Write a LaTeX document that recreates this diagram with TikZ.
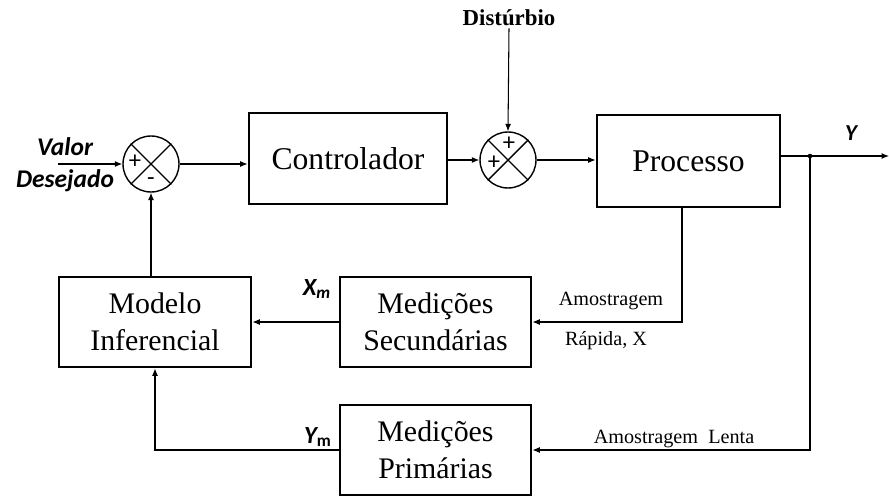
\documentclass[tikz,border=0pt]{standalone}
\usepackage{fontspec}
\setmainfont{Liberation Serif}
\newfontfamily\calibri{Carlito}
\usetikzlibrary{arrows.meta,positioning,calc}
\newcommand{\seta}[2]{\draw[->] (#1) -- (#2)}

\begin{document}
\begin{tikzpicture}[
      x=0.02cm,y=-0.02cm,
      >={Latex[length=1.5mm,width=1.2mm]},
      line width=0.6pt,
      bloco/.style={rectangle,draw,line width=1.6pt,minimum width=3.82cm,minimum height=1.8cm,align=center,inner sep=0pt,font=\fontsize{17}{21}\selectfont},
      somador/.style={circle,draw,line width=0.8pt,minimum size=1.12cm,inner sep=0pt},
      sinal/.style={inner sep=0pt,font=\calibri\fontsize{14}{14}\selectfont},
      rotulo/.style={inner sep=1pt,font=\calibri\bfseries\itshape\fontsize{14.5}{18}\selectfont,align=center},
      nota/.style={inner sep=1pt,font=\fontsize{11.5}{14}\selectfont}]

      \useasboundingbox (0,0) rectangle (889,497);

      % Define nodes
      \node [somador] (s1) at (151,164) {};
      \node [somador] (s2) at (508,160) {};
      \draw[line width=0.8pt] (s1.45) -- (s1.225) (s1.135) -- (s1.315);
      \draw[line width=0.8pt] (s2.45) -- (s2.225) (s2.135) -- (s2.315);
      \node [sinal] (s1a) at (135,162) {+};
      \node [sinal] (s1b) at (151,182) {-};
      \node [sinal] (s2a) at (509,144) {+};
      \node [sinal] (s2b) at (494,163) {+};

      \node [bloco,minimum width=3.96cm,minimum height=1.82cm,font=\fontsize{18}{22}\selectfont] (ctrl) at (348,158.5) {Controlador};
      \node [bloco,minimum width=3.66cm,minimum height=1.84cm,font=\fontsize{18}{22}\selectfont] (proc) at (688.5,161) {Processo};
      \node [bloco,minimum width=3.84cm] (modelo) at (155,322) {Modelo\\Inferencial};
      \node [bloco] (medsec) at (435.5,322) {Medições\\Secundárias};
      \node [bloco] (medpri) at (435.5,450) {Medições\\Primárias};

      \node [rotulo] (valor) at (65,165) {Valor\\Desejado};
      \node [inner sep=1pt,font=\bfseries\fontsize{13}{15}\selectfont] (dist) at (509,18) {Distúrbio};
      \node [rotulo,font=\calibri\bfseries\itshape\fontsize{13}{15}\selectfont] (ylab) at (851,133) {Y};
      \node [rotulo,font=\calibri\bfseries\itshape\fontsize{14}{16}\selectfont] (xm) at (317,289) {X\textsubscript{m}};
      \node [rotulo,font=\calibri\bfseries\itshape\fontsize{14}{16}\selectfont] (ym) at (318,437) {Y\textsubscript{\upshape m}};
      \node [nota] (amr) at (611,301) {Amostragem};
      \node [nota] (rap) at (606,341) {Rápida, X};
      \node [nota] (aml) at (674,439) {Amostragem\ \ Lenta};

      \coordinate (ent) at (58,164);
      \coordinate (juncao) at (810,156);
      \coordinate (saida) at (889,156);

      % Draw paths
      \seta{ent}{s1.west};
      \seta{s1.east}{s1.east -| ctrl.west};
      \seta{ctrl.east |- s2}{s2.west};
      \seta{dist.south}{s2.north};
      \seta{s2.east}{s2.east -| proc.west};
      \draw (proc.east |- juncao) -- (juncao);
      \seta{juncao}{saida};
      \fill (juncao) circle (1.3pt);
      \draw[->] (juncao) |- (medpri.east);
      \draw[->] ([xshift=-0.13cm]proc.south) |- (medsec.east);
      \seta{medsec.west}{modelo.east};
      \draw[->] (medpri.west) -| (modelo.south);
      \seta{s1 |- modelo.north}{s1.south};

\end{tikzpicture}
\end{document}
